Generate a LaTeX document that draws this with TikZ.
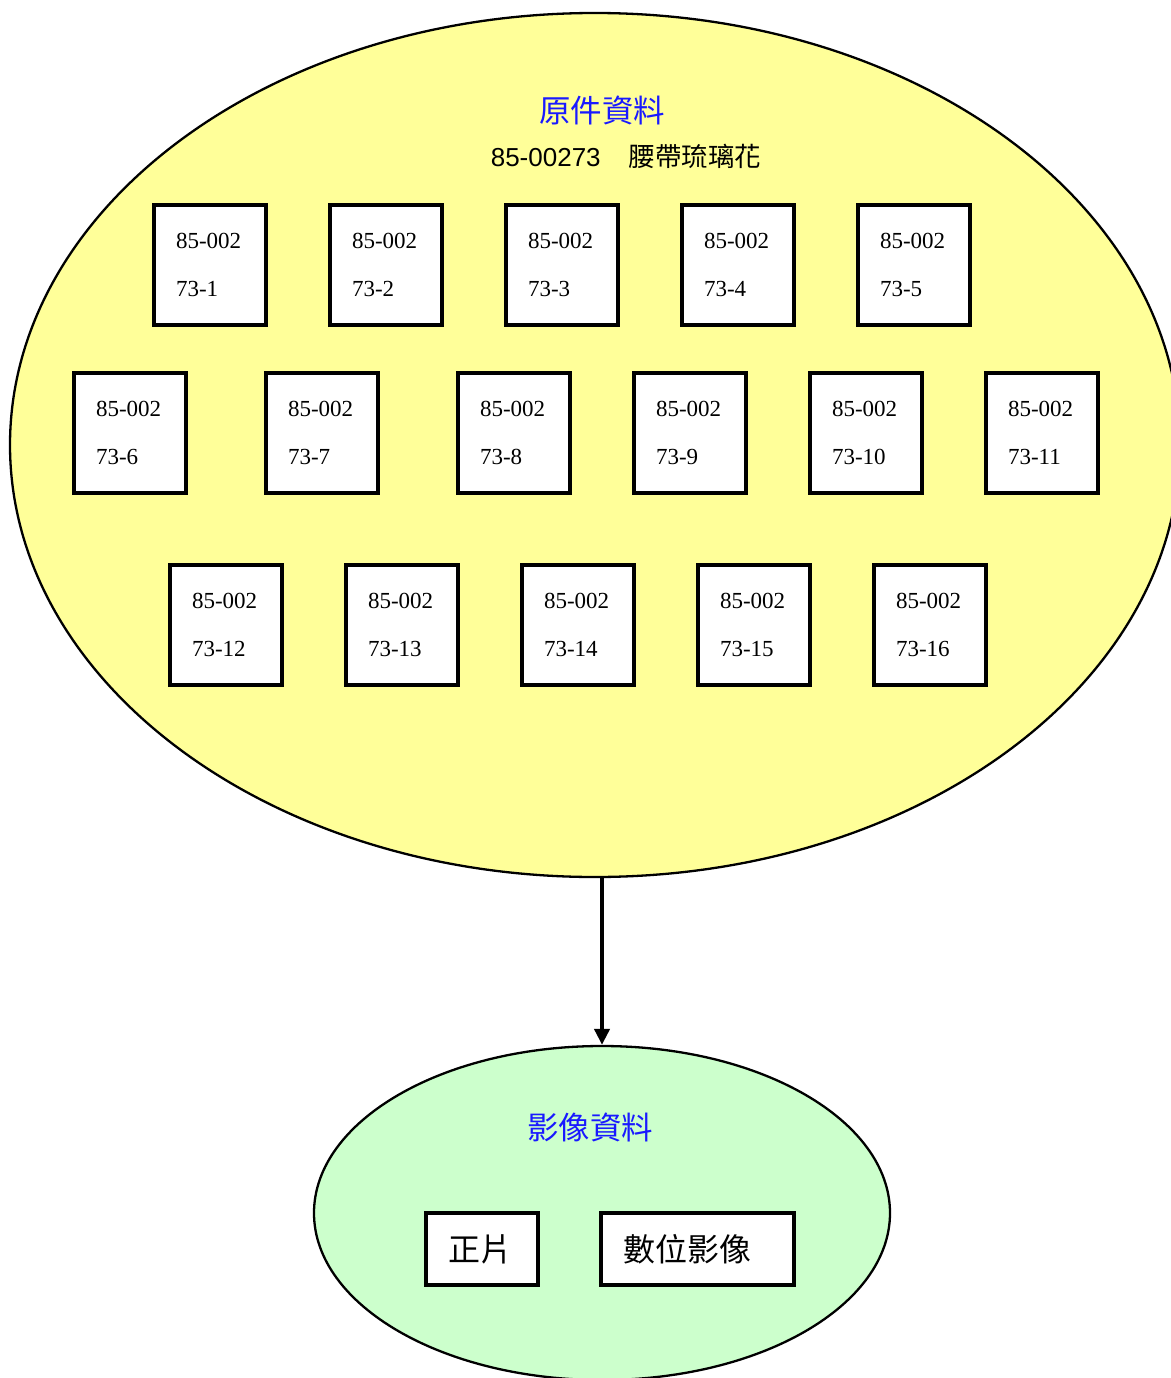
\documentclass[tikz,border=0pt]{standalone}
\usepackage{fontspec}
\setmainfont{Liberation Serif}
\newfontfamily\cjk{Noto Sans CJK TC}
\newfontfamily\arialf{Liberation Sans}
\usetikzlibrary{shapes.geometric,arrows.meta}
\definecolor{yellowfill}{RGB}{255,255,153}
\definecolor{greenfill}{RGB}{204,255,204}
\definecolor{titleblue}{RGB}{25,25,255}
\tikzset{
  groupell/.style={ellipse, draw=black, line width=2.3pt, inner sep=0pt},
  itembox/.style={draw=black, fill=white, line width=3.5pt, minimum width=112pt, minimum height=120pt,
    text width=68pt, inner xsep=22pt, inner ysep=0pt, align=left,
    font={\fontsize{23}{48}\selectfont}},
  imgbox/.style={draw=black, fill=white, line width=3.5pt, minimum height=72pt,
    inner xsep=22pt, inner ysep=0pt, align=left, font={\cjk\fontsize{32}{36}\selectfont}},
  grouptitle/.style={text=titleblue, font={\cjk\fontsize{31.5}{36}\selectfont}, inner sep=0pt},
}
\begin{document}
\begin{tikzpicture}[x=1pt,y=-1pt]
\useasboundingbox (0,0) rectangle (1170,1378);
% big ellipse
\node[groupell, fill=yellowfill, minimum width=1170pt, minimum height=864pt] (orig) at (595,445) {};
\node[grouptitle] (origtitle) at (602,110) {原件資料};
\node[inner sep=0pt, anchor=base] (origsub) at (626,166) {{\arialf\fontsize{26}{30}\selectfont 85-00273}\hspace{28pt}{\cjk\fontsize{26.5}{30}\selectfont 腰帶琉璃花}};
% row 1
\node[itembox] (b1) at (210,265) {85-002\\73-1};
\node[itembox] (b2) at (386,265) {85-002\\73-2};
\node[itembox] (b3) at (562,265) {85-002\\73-3};
\node[itembox] (b4) at (738,265) {85-002\\73-4};
\node[itembox] (b5) at (914,265) {85-002\\73-5};
% row 2
\node[itembox] (b6) at (130,433) {85-002\\73-6};
\node[itembox] (b7) at (322,433) {85-002\\73-7};
\node[itembox] (b8) at (514,433) {85-002\\73-8};
\node[itembox] (b9) at (690,433) {85-002\\73-9};
\node[itembox] (b10) at (866,433) {85-002\\73-10};
\node[itembox] (b11) at (1042,433) {85-002\\73-11};
% row 3
\node[itembox] (b12) at (226,625) {85-002\\73-12};
\node[itembox] (b13) at (402,625) {85-002\\73-13};
\node[itembox] (b14) at (578,625) {85-002\\73-14};
\node[itembox] (b15) at (754,625) {85-002\\73-15};
\node[itembox] (b16) at (930,625) {85-002\\73-16};
% small ellipse
\node[groupell, fill=greenfill, minimum width=576pt, minimum height=334pt] (img) at (602,1213) {};
\node[grouptitle] (imgtitle) at (590,1127) {影像資料};
\node[imgbox, minimum width=112pt, text width=68pt] (pos) at (482,1249) {正片};
\node[imgbox, minimum width=193pt, text width=149pt] (dig) at (697.5,1249) {數位影像};
% arrow
\draw[line width=4pt, -{Triangle[length=16pt,width=15pt]}] (img.north |- orig.south) -- (img.north);
\end{tikzpicture}
\end{document}
